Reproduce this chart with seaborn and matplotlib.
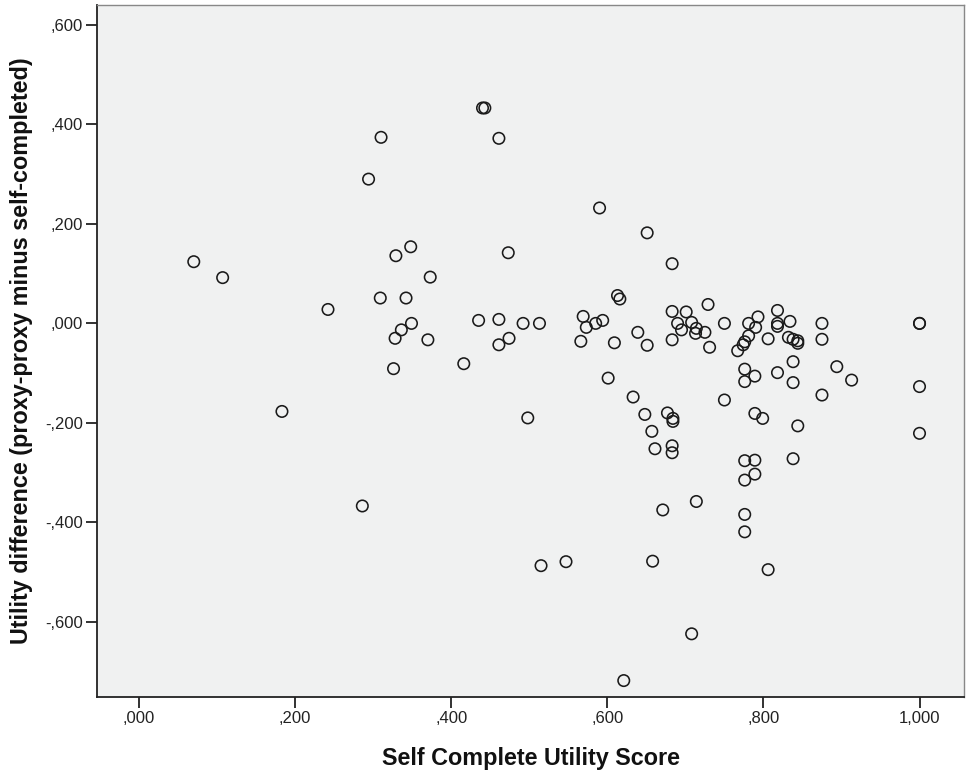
import matplotlib
matplotlib.use("Agg")
import matplotlib.pyplot as plt
import seaborn as sns
import pandas as pd

# Self complete utility score (x) and utility difference (y)
self_score = [
    0.070, 0.107, 0.183, 0.242, 0.294, 0.310, 0.286, 0.309, 0.329, 0.348,
    0.342, 0.373, 0.349, 0.336, 0.328, 0.370, 0.326, 0.416, 0.440, 0.443,
    0.461, 0.473, 0.435, 0.461, 0.474, 0.461, 0.492, 0.513, 0.498, 0.515,
    0.547, 0.590, 0.651, 0.683, 0.613, 0.616, 0.569, 0.573, 0.585, 0.594,
    0.566, 0.609, 0.639, 0.651, 0.683, 0.701, 0.729, 0.690, 0.695, 0.708,
    0.714, 0.713, 0.725, 0.683, 0.731, 0.750, 0.767, 0.601, 0.633, 0.648,
    0.677, 0.684, 0.684, 0.657, 0.750, 0.661, 0.683, 0.683, 0.671, 0.714,
    0.658, 0.708, 0.621, 0.818, 0.793, 0.781, 0.790, 0.818, 0.818, 0.834,
    0.875, 1.000, 1.000, 0.781, 0.776, 0.774, 0.806, 0.832, 0.838, 0.844,
    0.844, 0.875, 0.838, 0.894, 0.776, 0.776, 0.789, 0.818, 0.838, 0.913,
    0.875, 1.000, 0.789, 0.799, 0.844, 1.000, 0.776, 0.789, 0.838, 0.776,
    0.789, 0.776, 0.776, 0.806,
]
utility_diff = [
    0.124, 0.092, -0.177, 0.028, 0.290, 0.374, -0.367, 0.051, 0.136, 0.154,
    0.051, 0.093, 0.000, -0.013, -0.030, -0.033, -0.091, -0.081, 0.433, 0.433,
    0.372, 0.142, 0.006, 0.008, -0.030, -0.043, 0.000, 0.000, -0.190, -0.487,
    -0.479, 0.232, 0.182, 0.120, 0.056, 0.049, 0.014, -0.008, 0.000, 0.006,
    -0.036, -0.039, -0.018, -0.044, 0.024, 0.023, 0.038, 0.000, -0.013, 0.002,
    -0.010, -0.020, -0.018, -0.033, -0.048, 0.000, -0.055, -0.110, -0.148, -0.183,
    -0.180, -0.191, -0.197, -0.217, -0.154, -0.252, -0.246, -0.260, -0.375, -0.358,
    -0.478, -0.624, -0.718, 0.026, 0.013, 0.000, -0.008, 0.000, -0.006, 0.004,
    0.000, 0.000, 0.000, -0.025, -0.037, -0.043, -0.031, -0.028, -0.032, -0.035,
    -0.040, -0.032, -0.077, -0.087, -0.092, -0.117, -0.106, -0.099, -0.119, -0.114,
    -0.144, -0.127, -0.181, -0.191, -0.206, -0.221, -0.276, -0.275, -0.272, -0.315,
    -0.303, -0.384, -0.419, -0.495,
]

x_ticks = [0.0, 0.2, 0.4, 0.6, 0.8, 1.0]
x_tick_labels = [",000", ",200", ",400", ",600", ",800", "1,000"]
y_ticks = [-0.6, -0.4, -0.2, 0.0, 0.2, 0.4, 0.6]
y_tick_labels = ["-,600", "-,400", "-,200", ",000", ",200", ",400", ",600"]

x_label = "Self Complete Utility Score"
y_label = "Utility difference (proxy-proxy minus self-completed)"

df = pd.DataFrame({"x": self_score, "y": utility_diff})

sns.set_theme(style="white")
plt.rcParams["font.family"] = ["Liberation Sans", "DejaVu Sans"]

fig = plt.figure(figsize=(9.66, 7.73), dpi=100)
ax = fig.add_axes([97 / 966, 1 - 697 / 773, (964 - 97) / 966, (697 - 5) / 773])
ax.set_facecolor("#F0F1F1")

sns.scatterplot(data=df, x="x", y="y", ax=ax, marker="o",
                facecolor="none", edgecolor="#1a1a1a", linewidth=1.15,
                s=68, legend=False)

ax.set_xlim(-0.054, 1.057)
ax.set_ylim(-0.751, 0.640)
ax.set_xticks(x_ticks)
ax.set_xticklabels(x_tick_labels)
ax.set_yticks(y_ticks)
ax.set_yticklabels(y_tick_labels)

ax.tick_params(axis="both", direction="out", length=8, width=1.3,
               color="#222222", labelsize=12, labelcolor="#222222", pad=2,
               bottom=True, left=True)

for side in ["top", "right"]:
    ax.spines[side].set_color("#888888")
    ax.spines[side].set_linewidth(1.0)
for side in ["bottom", "left"]:
    ax.spines[side].set_color("#222222")
    ax.spines[side].set_linewidth(1.3)

ax.set_xlabel(x_label, fontsize=16.8, fontweight="bold", color="#111111")
ax.set_ylabel(y_label, fontsize=16.8, fontweight="bold", color="#111111")
ax.xaxis.set_label_coords(0.5, -0.072)
ax.yaxis.set_label_coords(-0.074, 0.5)

fig.savefig("out.png", dpi=100)
